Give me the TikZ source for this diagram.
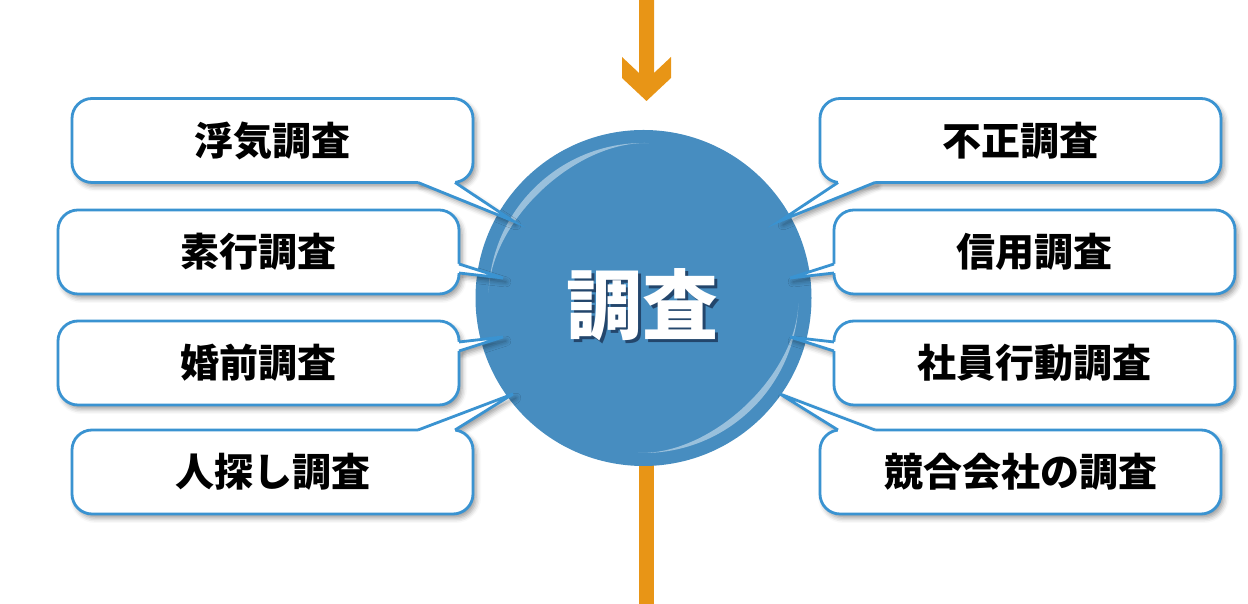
\documentclass[tikz,border=0pt]{standalone}
\usepackage{fontspec}
\newfontfamily\jpfont{Noto Sans CJK JP}
\usetikzlibrary{calc, shadows.blur}

\definecolor{hubblue}{RGB}{71,141,192}
\definecolor{rimblue}{RGB}{58,147,209}
\definecolor{flowline}{RGB}{232,149,22}

\newcommand{\tailshade}[4]{%
  \fill[tailshadow] ($(#1)+(#2)$) -- (#4) -- ($(#1)+(#3)$) -- cycle;
}
\newcommand{\calltail}[5]{%
  \fill[white] ($(#1)+(#2)+(#5)$) -- ($(#1)+(#2)$) -- (#4) -- ($(#1)+(#3)$) -- ($(#1)+(#3)+(#5)$) -- cycle;
  \draw[tail] ($(#1)+(#2)$) -- (#4) -- ($(#1)+(#3)$);
}

\begin{document}
\begin{tikzpicture}[x=1pt, y=1pt,
  topic/.style = {draw=rimblue, line width=2.8pt, fill=white, rounded corners=20pt,
    minimum width=401pt, minimum height=84pt, outer sep=0pt,
    font=\jpfont\bfseries\fontsize{39}{39}\selectfont,
    blur shadow={shadow xshift=3pt, shadow yshift=-4pt, shadow blur radius=5pt, shadow opacity=40}},
  tailshadow/.style = {fill=white,
    blur shadow={shadow xshift=3pt, shadow yshift=-4pt, shadow blur radius=5pt, shadow opacity=40}},
  tail/.style = {draw=rimblue, line width=2.8pt, line join=miter},
  gloss/.style = {fill=white, fill opacity=0.45},
  hubtext/.style = {font=\jpfont\bfseries\fontsize{76}{76}\selectfont}
]
\useasboundingbox (0,0) rectangle (1248,604);

\coordinate (top) at (646.5,604);
\coordinate (bottom) at (646.5,0);

\fill[flowline] ($(top)+(-7.5,0)$) -- ++(0,-73) -- ++(-17,16) -- ++(0,-21)
  -- ($(top)+(0,-101)$) -- ($(top)+(24.5,-78)$) -- ++(0,21)
  -- ($(top)+(7.5,-73)$) -- ($(top)+(7.5,0)$) -- cycle;
\draw[flowline, line width=15pt] (bottom |- 0,306) -- (bottom);

\node[circle, fill=hubblue, minimum size=336pt, inner sep=0pt] (hub) at (643.5,306) {};
\fill[gloss] ($(hub.center)+(88:155)$) arc[start angle=88, end angle=178, radius=155]
  .. controls ($(hub.center)+(152.8:171.3)$) and ($(hub.center)+(113.2:171.3)$) .. ($(hub.center)+(88:155)$);
\fill[gloss] ($(hub.center)+(-92:155)$) arc[start angle=-92, end angle=-2, radius=155]
  .. controls ($(hub.center)+(-27.2:171.3)$) and ($(hub.center)+(-66.8:171.3)$) .. ($(hub.center)+(-92:155)$);
\node[hubtext, text=black!90!blue, opacity=0.5] at ($(hub.center)+(1.5,-9.5)$) {調査};
\node[hubtext, text=white] (hubtitle) at ($(hub.center)+(-1,-7)$) {調査};

\coordinate (tl1) at (513,383);
\coordinate (tl2) at (503,326);
\coordinate (tl3) at (503,267);
\coordinate (tl4) at (513,210);
\coordinate (tr1) at (780,383);
\coordinate (tr2) at (790,326);
\coordinate (tr3) at (790,267);
\coordinate (tr4) at (780,210);

\coordinate (lb1se) at (473,421.5);
\coordinate (lb2se) at (459,310);
\coordinate (lb3ne) at (459,283);
\coordinate (lb4ne) at (473,174);
\coordinate (rb1sw) at (820,421.5);
\coordinate (rb2sw) at (834,310);
\coordinate (rb3nw) at (834,283);
\coordinate (rb4nw) at (820,174);

\tailshade{lb1se}{-55,0}{-18,0}{tl1}
\tailshade{lb2se}{0,30}{0,21}{tl2}
\tailshade{lb3ne}{0,-21}{0,-30}{tl3}
\tailshade{lb4ne}{-55,0}{-18,0}{tl4}
\tailshade{rb1sw}{55,0}{18,0}{tr1}
\tailshade{rb2sw}{0,30}{0,21}{tr2}
\tailshade{rb3nw}{0,-21}{0,-30}{tr3}
\tailshade{rb4nw}{55,0}{18,0}{tr4}

\node[topic] (lb1) at (272.5,463.5) {浮気調査};
\node[topic] (lb2) at (258.5,352) {素行調査};
\node[topic] (lb3) at (258.5,241) {婚前調査};
\node[topic] (lb4) at (272.5,132) {人探し調査};
\node[topic] (rb1) at (1020.5,463.5) {不正調査};
\node[topic] (rb2) at (1034.5,352) {信用調査};
\node[topic] (rb3) at (1034.5,241) {社員行動調査};
\node[topic] (rb4) at (1020.5,132) {競合会社の調査};

\calltail{lb1.south east}{-55,0}{-18,0}{tl1}{0,3}
\calltail{lb2.south east}{0,30}{0,21}{tl2}{-3,0}
\calltail{lb3.north east}{0,-21}{0,-30}{tl3}{-3,0}
\calltail{lb4.north east}{-55,0}{-18,0}{tl4}{0,-3}
\calltail{rb1.south west}{55,0}{18,0}{tr1}{0,3}
\calltail{rb2.south west}{0,30}{0,21}{tr2}{3,0}
\calltail{rb3.north west}{0,-21}{0,-30}{tr3}{3,0}
\calltail{rb4.north west}{55,0}{18,0}{tr4}{0,-3}
\end{tikzpicture}
\end{document}
